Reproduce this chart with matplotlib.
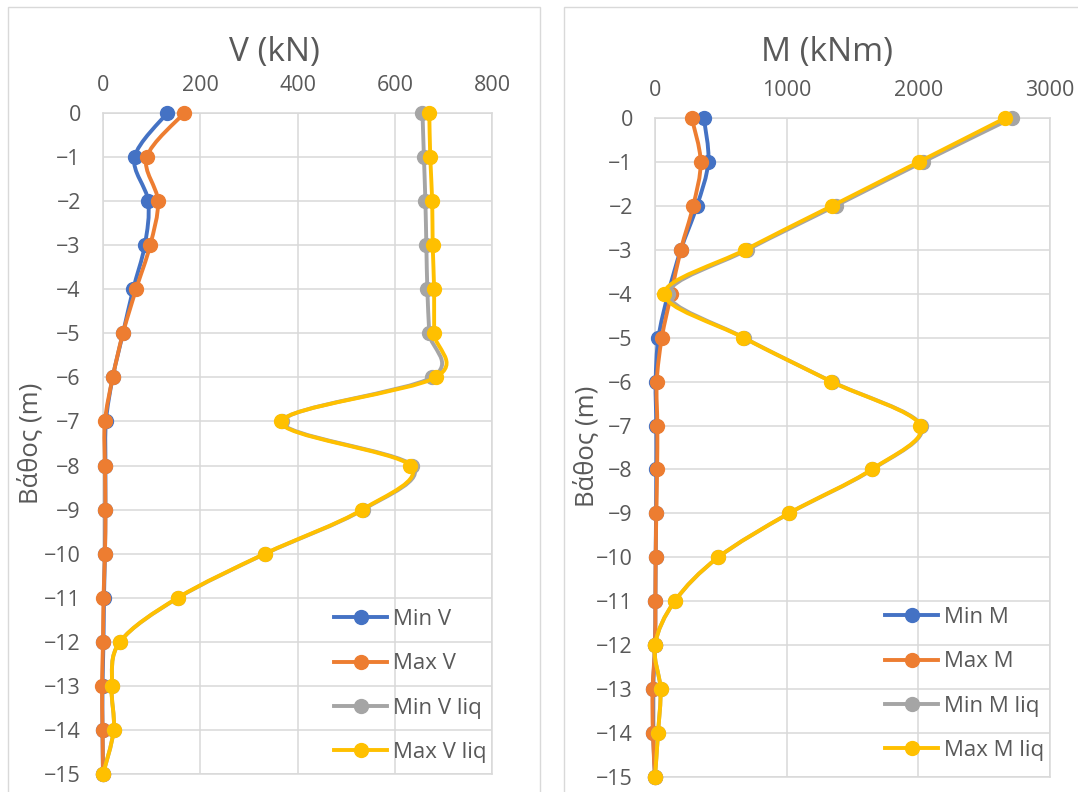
import matplotlib
matplotlib.use('Agg')
import matplotlib.pyplot as plt
import numpy as np
from matplotlib.path import Path
from matplotlib.patches import PathPatch, Rectangle
from matplotlib.lines import Line2D

plt.rcParams['font.family'] = ['Open Sans', 'DejaVu Sans']

depth = [0, -1, -2, -3, -4, -5, -6, -7, -8, -9, -10, -11, -12, -13, -14, -15]

# shear force V (kN)
v_min = [132, 65, 93, 86, 62, 41, 20, 6, 5, 5, 4, 2, 1, -1, -1, 0]
v_max = [167, 90, 113, 97, 68, 41, 20, 4, 4, 5, 4, 1, 0, -2, -1, 0]
v_min_liq = [657, 660, 663, 665, 667, 671, 676, 369, 636, 535, 334, 155, 35, 18, 22, 0]
v_max_liq = [671, 673, 677, 678, 681, 681, 684, 367, 632, 533, 333, 154, 35, 18, 22, 0]

# bending moment M (kNm)
m_min = [371, 405, 319, 196, 100, 26, 5, 10, 10, 8, 5, 3, 0, -15, -14, 0]
m_max = [279, 347, 290, 196, 123, 52, 13, 18, 16, 10, 5, 3, 0, -18, -16, 0]
m_min_liq = [2713, 2034, 1371, 702, 102, 675, 1342, 2022, 1650, 1018, 481, 150, 0, 42, 23, 0]
m_max_liq = [2661, 2003, 1345, 684, 70, 671, 1339, 2016, 1645, 1016, 480, 149, 0, 42, 23, 0]

colors = ['#4472C4', '#ED7D31', '#A5A5A5', '#FFC000']
txt = '#595959'
grid = '#D9D9D9'
W, H = 1078, 792


def smooth_path(x, y):
    # Excel-like smoothed line: cubic bezier through the points
    pts = np.column_stack([x, y]).astype(float)
    n = len(pts)
    verts = [pts[0]]
    codes = [Path.MOVETO]
    for i in range(n - 1):
        p0 = pts[i - 1] if i > 0 else pts[i]
        p1 = pts[i]
        p2 = pts[i + 1]
        p3 = pts[i + 2] if i + 2 < n else pts[i + 1]
        verts += [p1 + (p2 - p0) / 6, p2 - (p3 - p1) / 6, p2]
        codes += [Path.CURVE4] * 3
    return Path(verts, codes)


def draw_panel(ax, series, labels, xmax, xstep, leg_xy):
    for k, (vals, lab) in enumerate(zip(series, labels)):
        ax.add_patch(PathPatch(smooth_path(vals, depth), fill=False, edgecolor=colors[k], clip_on=False,
                               lw=2.8, capstyle='round', joinstyle='round', zorder=3 + 2 * k))
        ax.plot(vals, depth, ls='none', marker='o', ms=10, color=colors[k], zorder=4 + 2 * k, clip_on=False)
    ax.set_xlim(0, xmax)
    ax.set_ylim(-15, 0)
    ax.set_xticks(np.arange(0, xmax + 1, xstep))
    ax.set_yticks(depth)
    ax.xaxis.tick_top()
    ax.tick_params(length=0, labelsize=15.5, labelcolor=txt)
    ax.tick_params(axis='x', pad=12.5)
    ax.tick_params(axis='y', pad=16)
    ax.grid(True, color=grid, lw=1.1)
    for s in ax.spines.values():
        s.set_color(grid)
        s.set_linewidth(1.1)
    ax.set_axisbelow(True)
    handles = [Line2D([], [], color=c, lw=2.8, marker='o', ms=10) for c in colors]
    ax.legend(handles, labels, loc='upper left', frameon=False, fontsize=16,
              bbox_to_anchor=(leg_xy[0] / W, 1 - leg_xy[1] / H), bbox_transform=fig.transFigure,
              borderpad=0, borderaxespad=0, handlelength=2.4, handletextpad=0.25,
              labelspacing=1.05, labelcolor=txt)


fig = plt.figure(figsize=(W / 100, H / 100), dpi=100)
fig.patches.append(Rectangle((8 / W, -0.01), (540 - 8) / W, 1 - 7 / H + 0.01, transform=fig.transFigure,
                             fill=False, edgecolor=grid, lw=1))
fig.patches.append(Rectangle((564 / W, -0.01), 0.5, 1 - 7 / H + 0.01, transform=fig.transFigure,
                             fill=False, edgecolor=grid, lw=1))

ax1 = fig.add_axes([103 / W, 1 - 774 / H, (492 - 103) / W, (774 - 113) / H])
draw_panel(ax1, [v_min, v_max, v_min_liq, v_max_liq], ['Min V', 'Max V', 'Min V liq', 'Max V liq'],
           800, 200, (334, 609))

ax2 = fig.add_axes([655 / W, 1 - 777 / H, (1050 - 655) / W, (777 - 118) / H])
draw_panel(ax2, [m_min, m_max, m_min_liq, m_max_liq], ['Min M', 'Max M', 'Min M liq', 'Max M liq'],
           3000, 1000, (885, 607))

fig.text(274 / W, 1 - 52 / H, 'V (kN)', ha='center', va='center', fontsize=24, color=txt)
fig.text(827 / W, 1 - 52 / H, 'M (kNm)', ha='center', va='center', fontsize=24, color=txt)
fig.text(30 / W, 1 - 443 / H, 'Βάθος (m)', ha='center', va='center', rotation=90, fontsize=18.5, color=txt)
fig.text(586 / W, 1 - 446 / H, 'Βάθος (m)', ha='center', va='center', rotation=90, fontsize=18.5, color=txt)

fig.savefig('out.png', dpi=100)
